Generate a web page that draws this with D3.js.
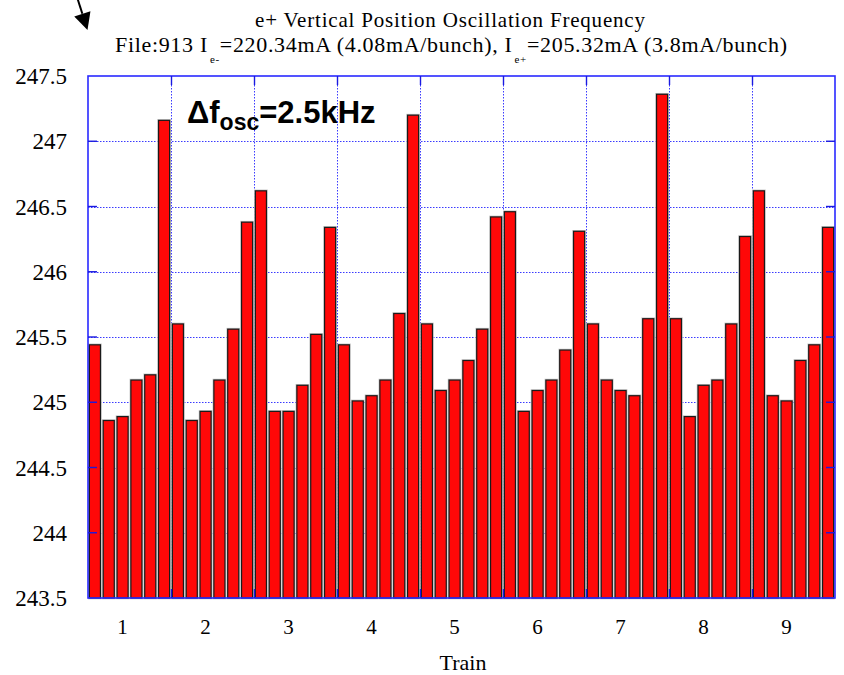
<!DOCTYPE html>
<html>
<head>
<meta charset="utf-8">
<script src="https://cdn.jsdelivr.net/npm/d3@7"></script>
<style>
  html, body { margin: 0; padding: 0; background: #ffffff; }
  svg { display: block; }
  .serif { font-family: "Liberation Serif", "DejaVu Serif", "Times New Roman", serif; }
  .sans { font-family: "Liberation Sans", Arial, "DejaVu Sans", sans-serif; }
</style>
</head>
<body>
<svg id="chart" width="844" height="675"></svg>
<script>
// ---------------- data ----------------
const trainLabels = ["1", "2", "3", "4", "5", "6", "7", "8", "9"];
const train1 = [245.44, 244.86, 244.89, 245.17, 245.21, 247.16];
const train2 = [245.60, 244.86, 244.93, 245.17, 245.56, 246.38];
const train3 = [246.62, 244.93, 244.93, 245.13, 245.52, 246.34];
const train4 = [245.44, 245.01, 245.05, 245.17, 245.68, 247.20];
const train5 = [245.60, 245.09, 245.17, 245.32, 245.56, 246.42];
const train6 = [246.46, 244.93, 245.09, 245.17, 245.40, 246.31];
const train7 = [245.60, 245.17, 245.09, 245.05, 245.64, 247.36];
const train8 = [245.64, 244.89, 245.13, 245.17, 245.60, 246.27];
const train9 = [246.62, 245.05, 245.01, 245.32, 245.44, 246.34];
const trainValues = [train1, train2, train3, train4, train5, train6, train7, train8, train9];
const yTicks = [243.5, 244, 244.5, 245, 245.5, 246, 246.5, 247, 247.5];
const yTickLabels = ["243.5", "244", "244.5", "245", "245.5", "246", "246.5", "247", "247.5"];
const titleLine1 = "e+ Vertical Position Oscillation Frequency";
const xAxisTitle = "Train";

// ---------------- layout ----------------
const svg = d3.select("#chart");
const L = 88, R = 835, T = 76, B = 598;
const bunchesPerTrain = 6;

const bars = [];
trainValues.forEach((arr, ti) => arr.forEach((v, bi) => bars.push({ train: ti, bunch: bi, idx: ti * bunchesPerTrain + bi, value: v })));

const x = d3.scaleBand()
  .domain(d3.range(bars.length))
  .range([L, R])
  .paddingInner(0.2)
  .paddingOuter(0.1);
const step = x.step();
const trainEdge = t => L + t * bunchesPerTrain * step;

const y = d3.scaleLinear().domain([243.5, 247.5]).range([B, T]);

const gridColor = "#3a3aff";
const axisColor = "#2a2aff";

// grid (behind bars)
const grid = svg.append("g");
grid.selectAll("line.h").data(yTicks.slice(1, -1)).join("line")
  .attr("x1", L).attr("x2", R)
  .attr("y1", d => Math.round(y(d)) + 0.5).attr("y2", d => Math.round(y(d)) + 0.5)
  .attr("stroke", gridColor).attr("stroke-width", 1).attr("stroke-dasharray", "1.5,1.5");
grid.selectAll("line.v").data(d3.range(1, trainLabels.length)).join("line")
  .attr("x1", d => Math.round(trainEdge(d)) + 0.5).attr("x2", d => Math.round(trainEdge(d)) + 0.5)
  .attr("y1", T).attr("y2", B)
  .attr("stroke", gridColor).attr("stroke-width", 1).attr("stroke-dasharray", "1.5,1.5");

// bars
const gb = svg.append("g");
gb.selectAll("rect.halo").data(bars).join("rect")
  .attr("x", d => x(d.idx)).attr("y", d => y(d.value))
  .attr("width", x.bandwidth()).attr("height", d => y(243.5) - y(d.value))
  .attr("fill", "none").attr("stroke", "#c4c4c4").attr("stroke-width", 2.6);
gb.selectAll("rect.bar").data(bars).join("rect")
  .attr("x", d => x(d.idx)).attr("y", d => y(d.value))
  .attr("width", x.bandwidth()).attr("height", d => y(243.5) - y(d.value))
  .attr("fill", "#ff0808").attr("stroke", "#1a1a1a").attr("stroke-width", 1.2);

// frame
svg.append("rect").attr("x", L).attr("y", T).attr("width", R - L).attr("height", B - T)
  .attr("fill", "none").attr("stroke", axisColor).attr("stroke-width", 1.6);

// inward ticks
const ticks = svg.append("g").attr("stroke", "#1a1ae0").attr("stroke-width", 1.4);
yTicks.slice(1, -1).forEach(v => {
  ticks.append("line").attr("x1", L).attr("x2", L + 9).attr("y1", y(v)).attr("y2", y(v));
  ticks.append("line").attr("x1", R - 9).attr("x2", R).attr("y1", y(v)).attr("y2", y(v));
});
d3.range(1, trainLabels.length).forEach(t => {
  const xx = Math.round(trainEdge(t)) + 0.5;
  ticks.append("line").attr("x1", xx).attr("x2", xx).attr("y1", T).attr("y2", T + 9);
  ticks.append("line").attr("x1", xx).attr("x2", xx).attr("y1", B - 9).attr("y2", B);
});

// y tick labels
svg.append("g").selectAll("text").data(yTicks).join("text")
  .attr("class", "serif")
  .attr("x", 67).attr("y", d => y(d)).attr("dy", "0.35em")
  .attr("text-anchor", "end")
  .attr("font-size", 23).attr("fill", "#000")
  .text((d, i) => yTickLabels[i]);

// x tick labels (train numbers)
svg.append("g").selectAll("text").data(trainLabels).join("text")
  .attr("class", "serif")
  .attr("x", (d, i) => x(i * bunchesPerTrain + 2) + x.bandwidth() / 2)
  .attr("y", 634)
  .attr("text-anchor", "middle")
  .attr("font-size", 21).attr("fill", "#000")
  .text(d => d);

// x axis title
svg.append("text").attr("class", "serif").attr("x", 463).attr("y", 670).attr("text-anchor", "middle")
  .attr("font-size", 22).attr("fill", "#000").text(xAxisTitle);

// title line 1
svg.append("text").attr("class", "serif").attr("x", 450).attr("y", 27).attr("text-anchor", "middle")
  .attr("font-size", 21).attr("fill", "#000")
  .attr("textLength", 390).attr("lengthAdjust", "spacing")
  .text(titleLine1);

// title line 2 with subscripts
const t2 = svg.append("text").attr("class", "serif").attr("x", 115).attr("y", 52)
  .attr("font-size", 22).attr("fill", "#000");
t2.append("tspan").text("File:913 I");
t2.append("tspan").attr("font-size", 11).attr("dy", 11).attr("dx", 2).text("e-");
t2.append("tspan").attr("dy", -11).text("=220.34mA (4.08mA/bunch), I");
t2.append("tspan").attr("font-size", 11).attr("dy", 11).attr("dx", 2).text("e+");
t2.append("tspan").attr("dy", -11).text("=205.32mA (3.8mA/bunch)");
{
  const len = t2.node().getComputedTextLength();
  const n = t2.text().length;
  const ls = (668 - len) / (n - 1);
  t2.attr("letter-spacing", ls);
}

// annotation Δf_osc
const ann = svg.append("text").attr("class", "sans").attr("x", 187).attr("y", 123)
  .attr("font-weight", "bold")
  .attr("font-size", 31).attr("fill", "#000");
ann.append("tspan").text("\u0394f");
ann.append("tspan").attr("font-size", 23).attr("dy", 7).text("osc");
ann.append("tspan").attr("dy", -7).text("=2.5kHz");

// arrow at top-left
{
  const x0 = 77, y0 = -3, x1 = 87.5, y1 = 30;
  const dx = x1 - x0, dy = y1 - y0, len = Math.hypot(dx, dy);
  const ux = dx / len, uy = dy / len, px = -uy, py = ux;
  const headLen = 17, headW = 8.5;
  const bx = x1 - ux * headLen, by = y1 - uy * headLen;
  svg.append("line").attr("x1", x0).attr("y1", y0).attr("x2", bx).attr("y2", by)
    .attr("stroke", "#000").attr("stroke-width", 2);
  svg.append("path")
    .attr("d", `M${x1},${y1}L${bx + px * headW},${by + py * headW}L${bx - px * headW},${by - py * headW}Z`)
    .attr("fill", "#000");
}
</script>
</body>
</html>
